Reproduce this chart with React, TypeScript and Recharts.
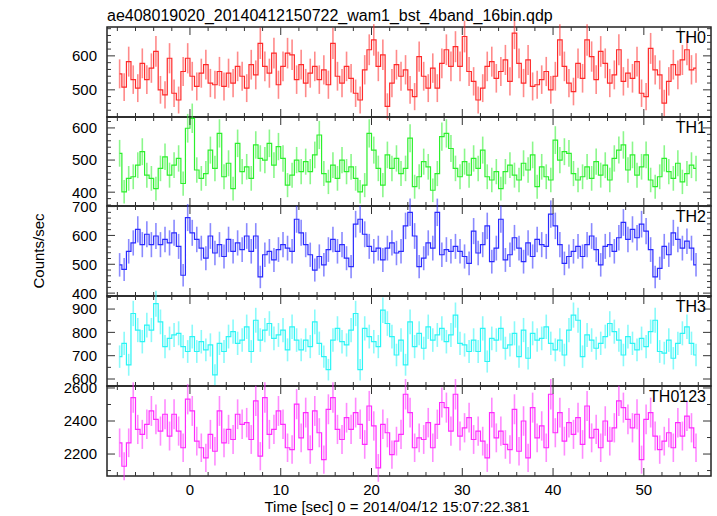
import React from 'react';
import { ComposedChart, Line, ErrorBar, XAxis, YAxis, ReferenceArea } from 'recharts';

// 0.5 s bins, first bin centred at -7.75 s
const T_START = -7.75;
const BIN = 0.5;
const LIVE = 0.3; // effective live exposure per bin, used for the error bars

const TH0 = [
  547, 508, 583, 530, 505, 578, 530, 564, 613, 500, 485, 593, 490, 470, 554, 593, 540, 510, 549, 574,
  520, 515, 554, 510, 549, 520, 569, 540, 505, 574, 544, 637, 569, 549, 608, 515, 569, 608, 603, 530,
  574, 520, 549, 569, 530, 559, 515, 637, 540, 520, 569, 534, 490, 470, 559, 618, 647, 569, 603, 451,
  520, 574, 540, 559, 500, 480,
  598, 540, 505, 564, 505, 578, 618, 569, 627, 569, 657, 554, 525, 470, 505, 569, 583, 534, 554, 588,
  525, 667, 578, 520, 588, 510, 515, 530, 554, 500, 540, 647, 569, 520, 495, 578, 534, 647, 598, 530,
  613, 578, 520, 544, 618, 525, 549, 534, 583, 490, 480, 622, 559, 544, 461, 525, 574, 544, 588, 618,
  559, 564,
];

const TH1 = [
  521, 401, 443, 448, 484, 526, 453, 443, 411, 474, 510, 453, 484, 505, 427, 599, 630, 469, 443, 458,
  531, 474, 583, 448, 490, 411, 552, 464, 479, 443, 547, 505, 500, 552, 484, 542, 505, 422, 453, 500,
  464, 495, 464, 516, 578, 458, 432, 484, 443, 500, 464, 479, 443, 401, 422, 583, 531, 474, 422, 516,
  474, 505, 458, 474, 568, 417, 448,
  495, 479, 406, 458, 573, 583, 536, 474, 448, 495, 453, 505, 474, 531, 448, 438, 464, 411, 464, 484,
  453, 438, 490, 469, 516, 417, 479, 448, 438, 562, 500, 526, 521, 458, 438, 448, 479, 443, 495, 453,
  484, 438, 505, 531, 547, 469, 516, 453, 479, 516, 438, 417, 448, 505, 464, 443, 490, 432, 458, 484,
  474,
];

const TH2 = [
  498, 482, 545, 574, 621, 568, 604, 568, 598, 568, 586, 574, 609, 562, 462, 662, 609, 586, 556, 521,
  598, 539, 568, 527, 586, 545, 574, 551, 598, 545, 598, 456, 533, 545, 515, 551, 568, 556, 545, 656,
  609, 568, 533, 480, 527, 498, 551, 586, 545, 568, 521, 492, 639, 656, 604, 562, 545, 556, 515, 556,
  574, 539, 545, 633, 680, 598, 492,
  521, 574, 556, 680, 533, 551, 545, 562, 545, 527, 503, 615, 539, 568, 633, 509, 556, 656, 515, 533,
  592, 556, 509, 574, 527, 586, 568, 562, 674, 633, 568, 503, 527, 545, 562, 527, 568, 598, 551, 498,
  562, 568, 545, 592, 645, 586, 621, 592, 639, 615, 551, 456, 486, 562, 533, 609, 586, 556, 580, 556,
  498,
];

const TH3 = [
  696, 753, 661, 881, 810, 760, 831, 810, 923, 845, 739, 774, 789, 796, 739, 718, 782, 718, 760, 725,
  746, 618, 753, 718, 782, 803, 753, 767, 824, 718, 852, 767, 810, 838, 774, 789, 810, 725, 824, 767,
  725, 767, 739, 845, 753, 696, 640, 767, 817, 760, 746, 810, 881, 640, 817, 782, 760, 739, 895, 838,
  782, 703, 767, 661, 845, 739, 796,
  732, 824, 767, 789, 817, 760, 789, 874, 753, 746, 718, 767, 718, 817, 675, 774, 767, 817, 732, 746,
  796, 696, 810, 689, 796, 767, 774, 824, 753, 725, 767, 703, 810, 874, 852, 696, 789, 767, 732, 753,
  782, 838, 803, 767, 703, 782, 753, 725, 774, 739, 803, 852, 718, 711, 767, 689, 753, 796, 824, 753,
  703,
];

const TH0123 = [
  2268, 2126, 2268, 2542, 2349, 2319, 2380, 2461, 2410, 2339, 2441, 2309, 2441, 2339, 2238, 2532, 2461, 2278, 2238, 2177,
  2319, 2217, 2461, 2268, 2349, 2288, 2441, 2380, 2390, 2288, 2522, 2187, 2542, 2319, 2349, 2461, 2380, 2238, 2227, 2502,
  2298, 2451, 2227, 2461, 2329, 2166, 2471, 2542, 2349, 2288, 2420, 2349, 2451, 2380, 2258, 2491, 2370, 2116, 2380, 2329,
  2197, 2278, 2319, 2562, 2451, 2238, 2298,
  2288, 2390, 2238, 2380, 2512, 2481, 2339, 2562, 2309, 2359, 2420, 2288, 2339, 2278, 2177, 2451, 2298, 2339, 2258, 2227,
  2471, 2217, 2400, 2177, 2481, 2298, 2370, 2238, 2562, 2329, 2451, 2278, 2390, 2319, 2420, 2258, 2491, 2298, 2349, 2238,
  2400, 2278, 2359, 2522, 2481, 2410, 2359, 2441, 2166, 2410, 2451, 2309, 2227, 2278, 2329, 2238, 2390, 2309, 2430, 2359,
  2238,
];

const X_DOMAIN = [-9.14, 57.4];
const X_TICKS = [-8, -6, -4, -2, 0, 2, 4, 6, 8, 10, 12, 14, 16, 18, 20, 22, 24, 26, 28, 30, 32, 34, 36, 38, 40, 42, 44, 46, 48, 50, 52, 54, 56];

const W = 717;
const H = 516;
const LEFT = 107;
const RIGHT = 711;
const FONT = '"Liberation Sans", Arial, Helvetica, sans-serif';

const panels = [
  { name: 'TH0', values: TH0, color: '#ff2a2a', top: 27, bottom: 117, domain: [420, 685], minor: 20, major: 100 },
  { name: 'TH1', values: TH1, color: '#2cf02c', top: 117, bottom: 206, domain: [357, 634], minor: 20, major: 100 },
  { name: 'TH2', values: TH2, color: '#2a2aff', top: 206, bottom: 296, domain: [390, 702], minor: 20, major: 100 },
  { name: 'TH3', values: TH3, color: '#2af5f5', top: 296, bottom: 386, domain: [570, 956], minor: 50, major: 100 },
  { name: 'TH0123', values: TH0123, color: '#ff2aff', top: 386, bottom: 476, domain: [2067, 2612], minor: 100, major: 200 },
];

function yTicks(domain: number[], step: number) {
  const out: number[] = [];
  for (let v = Math.ceil(domain[0] / step) * step; v <= domain[1]; v += step) out.push(v);
  return out;
}

function Panel({ p, last }: { p: any; last: boolean }) {
  const data = p.values.map((v: number, i: number) => ({
    t: T_START + i * BIN,
    v,
    err: Math.sqrt(v * LIVE) / LIVE,
  }));
  const h = p.bottom - p.top;
  const xTick = (props: any) => {
    const { x, payload } = props;
    const y = p.bottom;
    const major = payload.value % 10 === 0;
    const len = major ? 8 : 4;
    return (
      <g>
        <line x1={x} x2={x} y1={y} y2={y - len} stroke="#333" />
        <line x1={x} x2={x} y1={y - h} y2={y - h + len} stroke="#333" />
        {last && major ? (
          <text x={x} y={y + 19} textAnchor="middle" fontSize={15} fontFamily={FONT} fill="#000">
            {payload.value}
          </text>
        ) : null}
      </g>
    );
  };
  const yTick = (props: any) => {
    const { y, payload } = props;
    const x = LEFT;
    const major = payload.value % p.major === 0;
    const len = major ? 8 : 4;
    return (
      <g>
        <line x1={x} x2={x + len} y1={y} y2={y} stroke="#333" />
        <line x1={RIGHT} x2={RIGHT - len} y1={y} y2={y} stroke="#333" />
        {major ? (
          <text x={x - 10} y={y} dy="0.36em" textAnchor="end" fontSize={15} fontFamily={FONT} fill="#000">
            {payload.value}
          </text>
        ) : null}
      </g>
    );
  };
  return (
    <div style={{ position: 'absolute', left: 0, top: 0 }}>
      <ComposedChart
        width={W}
        height={H}
        data={data}
        margin={{ top: p.top, bottom: H - p.bottom - 1, left: LEFT - 1, right: W - RIGHT }}
      >
        <XAxis
          dataKey="t"
          type="number"
          domain={X_DOMAIN}
          allowDataOverflow
          ticks={X_TICKS}
          interval={0}
          height={1}
          tickLine={false}
          axisLine={false}
          tick={xTick}
        />
        <YAxis
          type="number"
          domain={p.domain}
          allowDataOverflow
          ticks={yTicks(p.domain, p.minor)}
          interval={0}
          width={1}
          tickLine={false}
          axisLine={false}
          tick={yTick}
        />
        <ReferenceArea
          x1={X_DOMAIN[0]}
          x2={X_DOMAIN[1]}
          y1={p.domain[0]}
          y2={p.domain[1]}
          fill="none"
          stroke="#222"
          strokeWidth={1.5}
          ifOverflow="visible"
        />
        <Line
          type="step"
          dataKey="v"
          stroke={p.color}
          strokeWidth={1.2}
          dot={false}
          isAnimationActive={false}
        >
          <ErrorBar dataKey="err" width={0} stroke={p.color} strokeWidth={1.6} strokeOpacity={0.55} direction="y" isAnimationActive={false} />
        </Line>
      </ComposedChart>
      <svg
        width={W}
        height={H}
        style={{ position: 'absolute', left: 0, top: 0, pointerEvents: 'none' }}
      >
        <text x={RIGHT - 5} y={p.top + 16} textAnchor="end" fontSize={16} fontFamily={FONT} fill="#000">
          {p.name}
        </text>
      </svg>
    </div>
  );
}

export default function App() {
  return (
    <div style={{ position: 'relative', width: W, height: H, background: '#fff', overflow: 'hidden' }}>
      <style>{'body{margin:0}'}</style>
      {panels.map((p, i) => (
        <Panel key={p.name} p={p} last={i === panels.length - 1} />
      ))}
      <svg width={W} height={H} style={{ position: 'absolute', left: 0, top: 0, pointerEvents: 'none' }}>
        <text x={107} y={21} fontSize={16} fontFamily={FONT} fill="#000">
          ae408019020_20140412150722_wam1_bst_4band_16bin.qdp
        </text>
        <text x={44} y={251} transform="rotate(-90 44 251)" textAnchor="middle" fontSize={15} fontFamily={FONT} fill="#000">
          Counts/sec
        </text>
        <text x={397} y={512} textAnchor="middle" fontSize={15} fontFamily={FONT} fill="#000">
          Time [sec] 0 = 2014/04/12 15:07:22.381
        </text>
      </svg>
    </div>
  );
}
